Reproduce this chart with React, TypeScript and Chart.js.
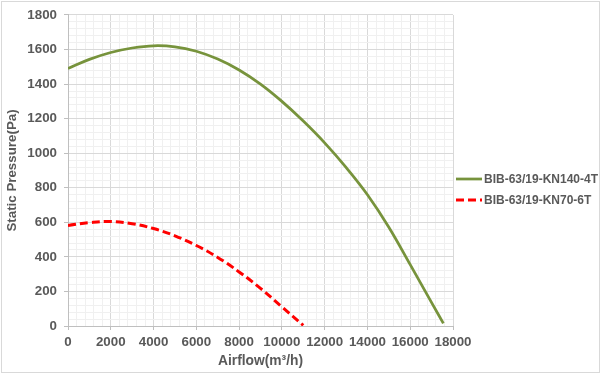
import React, { useEffect, useRef } from "react";
import { Chart, registerables } from "chart.js";

Chart.register(...registerables);

const seriesNames = ["BIB-63/19-KN140-4T", "BIB-63/19-KN70-6T"];
const greenX = [0, 1000, 2000, 3000, 4000, 5000, 6000, 7000, 8000, 9000, 10000, 11000, 12000, 13000, 14000, 15000, 16000, 17000, 17550];
const greenY = [1490, 1543, 1583, 1609, 1622, 1616, 1590, 1545, 1482, 1400, 1300, 1186, 1060, 918, 760, 572, 355, 135, 15];
const redX = [0, 1000, 2000, 3000, 4000, 5000, 6000, 7000, 8000, 9000, 10000, 11000];
const redY = [582, 598, 605, 592, 564, 522, 466, 397, 313, 218, 111, 4];
const xTicksMajor = 2000;
const yTicksMajor = 200;

const TEXT = "#595959";
const FONT = "'Liberation Sans', Arial, sans-serif";

const legendPlugin = {
  id: "customLegend",
  afterDraw(chart: any) {
    const { ctx, chartArea } = chart;
    const datasets = chart.data.datasets;
    const cy = chart.height / 2 - 8;
    const x0 = chartArea.right + 3;
    ctx.save();
    datasets.forEach((ds: any, i: number) => {
      const y = Math.round(cy + i * 21);
      ctx.beginPath();
      ctx.setLineDash(ds.borderDash || []);
      ctx.strokeStyle = ds.borderColor;
      ctx.lineWidth = ds.borderWidth;
      ctx.moveTo(x0, y);
      ctx.lineTo(x0 + 26, y);
      ctx.stroke();
      ctx.setLineDash([]);
      ctx.fillStyle = TEXT;
      ctx.font = `bold 12px ${FONT}`;
      ctx.textBaseline = "middle";
      ctx.textAlign = "left";
      ctx.fillText(ds.label, x0 + 28, y + 0.5);
    });
    ctx.restore();
  },
};

export default function App() {
  const ref = useRef<HTMLCanvasElement>(null);
  useEffect(() => {
    if (!ref.current) return;
    const chart = new Chart(ref.current, {
      type: "line",
      data: {
        datasets: [
          {
            label: seriesNames[0],
            data: greenX.map((x, i) => ({ x, y: greenY[i] })),
            borderColor: "#77933C",
            backgroundColor: "#77933C",
            borderWidth: 2.75,
            pointRadius: 0,
            tension: 0.4,
            fill: false,
          },
          {
            label: seriesNames[1],
            data: redX.map((x, i) => ({ x, y: redY[i] })),
            borderColor: "#FF0000",
            backgroundColor: "#FF0000",
            borderWidth: 3,
            borderDash: [8, 4],
            pointRadius: 0,
            tension: 0.4,
            fill: false,
          },
        ],
      },
      options: {
        animation: false,
        responsive: false,
        maintainAspectRatio: false,
        layout: { padding: { left: 0, right: 147, top: 13, bottom: 0 } },
        plugins: { legend: { display: false }, tooltip: { enabled: false } },
        scales: {
          x: {
            type: "linear",
            min: 0,
            max: 18000,
            afterFit: (s: any) => {
              s.height = 47;
            },
            ticks: {
              stepSize: 400,
              maxTicksLimit: 100,
              autoSkip: false,
              maxRotation: 0,
              padding: 4,
              color: TEXT,
              font: { family: FONT, size: 13.33, weight: "bold" },
              callback: (v: any) => (Math.round(v) % xTicksMajor === 0 ? String(v) : ""),
            },
            grid: {
              color: (c: any) => (c.tick && c.tick.value % xTicksMajor === 0 ? "#d9d9d9" : "#f0f0f0"),
              tickColor: (c: any) => (c.tick && c.tick.value % xTicksMajor === 0 ? "#bfbfbf" : "rgba(0,0,0,0)"),
              tickLength: 4,
              lineWidth: 1,
            },
            border: { color: "#bfbfbf" },
            title: {
              display: true,
              text: "Airflow(m³/h)",
              color: TEXT,
              font: { family: FONT, size: 13.8, weight: "bold" },
              padding: { top: 0, bottom: 3.5 },
            },
          },
          y: {
            type: "linear",
            min: 0,
            max: 1800,
            afterFit: (s: any) => {
              s.width = 68;
            },
            ticks: {
              stepSize: 40,
              maxTicksLimit: 100,
              autoSkip: false,
              padding: 7,
              color: TEXT,
              font: { family: FONT, size: 13.33, weight: "bold" },
              callback: (v: any) => (Math.round(v) % yTicksMajor === 0 ? String(v) : ""),
            },
            grid: {
              color: (c: any) => (c.tick && c.tick.value % yTicksMajor === 0 ? "#d9d9d9" : "#f0f0f0"),
              tickColor: (c: any) => (c.tick && c.tick.value % yTicksMajor === 0 ? "#bfbfbf" : "rgba(0,0,0,0)"),
              tickLength: 4,
              lineWidth: 1,
            },
            border: { color: "#bfbfbf" },
            title: {
              display: true,
              text: "Static Pressure(Pa)",
              color: TEXT,
              font: { family: FONT, size: 13.33, weight: "bold" },
              padding: { top: 4, bottom: 0 },
            },
          },
        },
      },
      plugins: [legendPlugin],
    } as any);
    return () => chart.destroy();
  }, []);

  return (
    <div style={{ position: "fixed", left: 0, top: 0, width: 600, height: 373, background: "#fff" }}>
      <canvas ref={ref} width={600} height={373} style={{ position: "absolute", left: 0, top: 0, width: 600, height: 373 }} />
      <div
        style={{
          position: "absolute",
          left: 1,
          top: 1,
          width: 599,
          height: 372,
          boxSizing: "border-box",
          border: "1px solid #d9d9d9",
          pointerEvents: "none",
        }}
      />
    </div>
  );
}
